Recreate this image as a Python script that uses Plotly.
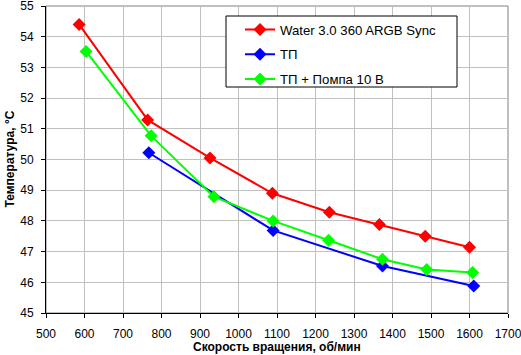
import plotly.graph_objects as go

red_x = [586, 764, 926, 1088, 1236, 1366, 1485, 1600]
red_y = [54.4, 51.29, 50.05, 48.9, 48.28, 47.88, 47.5, 47.14]
blue_x = [767, 1090, 1374, 1611]
blue_y = [50.22, 47.69, 46.53, 45.88]
green_x = [604, 773, 936, 1090, 1234, 1374, 1489, 1608]
green_y = [53.52, 50.77, 48.79, 48.0, 47.37, 46.75, 46.42, 46.32]
names = ["Water 3.0 360 ARGB Sync", "ТП", "ТП + Помпа 10 В"]
colors = ["#ff0000", "#0000ff", "#00ff00"]
x_title = "Скорость вращения, об/мин"
y_title = "Температура, °C"

fig = go.Figure()
for i, (xs, ys) in enumerate([(red_x, red_y), (blue_x, blue_y), (green_x, green_y)]):
    fig.add_trace(go.Scatter(
        x=xs, y=ys, name=names[i], mode="lines+markers",
        line=dict(color=colors[i], width=2),
        marker=dict(symbol="diamond", size=10, color=colors[i]),
        legendgroup=str(i),
    ))

font = "Liberation Sans, Arial, sans-serif"
L, R, T, B = 46, 13, 6, 42
W, H = 521, 355
pw, ph = W - L - R, H - T - B

fig.update_layout(
    width=W, height=H,
    margin=dict(l=L, r=R, t=T, b=B),
    paper_bgcolor="white", plot_bgcolor="white",
    font=dict(family=font, size=12, color="black"),
    showlegend=True,
    legend=dict(
        x=(240 - L) / pw, y=(H - B - 14.5) / ph, xanchor="left", yanchor="top",
        bgcolor="rgba(0,0,0,0)", borderwidth=0,
        font=dict(family=font, size=13.2, color="black"),
        tracegroupgap=4.5, itemwidth=30,
    ),
    xaxis=dict(
        range=[500, 1700], dtick=100, tick0=500, automargin=False,
        ticklabeloverflow="allow", ticklabelstandoff=6,
        showgrid=True, gridcolor="#c0c0c0", gridwidth=1,
        showline=True, linecolor="black", linewidth=1,
        ticks="outside", ticklen=4, tickcolor="black",
        mirror=False, zeroline=False,
    ),
    yaxis=dict(
        range=[45, 55], dtick=1, automargin=False,
        ticklabeloverflow="allow", ticklabelstandoff=5,
        showgrid=True, gridcolor="#c0c0c0", gridwidth=1,
        showline=True, linecolor="black", linewidth=1,
        ticks="outside", ticklen=4, tickcolor="black",
        zeroline=False,
    ),
)
# gray plot border
fig.add_shape(type="rect", xref="paper", yref="paper", x0=0, y0=0, x1=1, y1=1,
              line=dict(color="#808080", width=1), layer="below")
# legend box
fig.add_shape(type="rect", xref="paper", yref="paper",
              x0=(226 - L) / pw, x1=(457 - L) / pw,
              y0=(H - B - 87) / ph, y1=(H - B - 16) / ph,
              line=dict(color="black", width=1), fillcolor="white", layer="above")
# axis titles
fig.add_annotation(text="<b>" + x_title + "</b>", xref="paper", yref="paper",
                   x=0.5, y=(H - B - 347) / ph, xanchor="center", yanchor="middle",
                   showarrow=False, font=dict(family=font, size=12, color="black"))
fig.add_annotation(text="<b>" + y_title + "</b>", xref="paper", yref="paper",
                   x=-L / pw, y=0.5, xanchor="left", yanchor="middle", textangle=-90,
                   showarrow=False, font=dict(family=font, size=12, color="black"))
fig.write_html("out.html", config={"displayModeBar": False},
               post_script="document.body.style.margin='0';document.body.style.overflow='hidden';")
